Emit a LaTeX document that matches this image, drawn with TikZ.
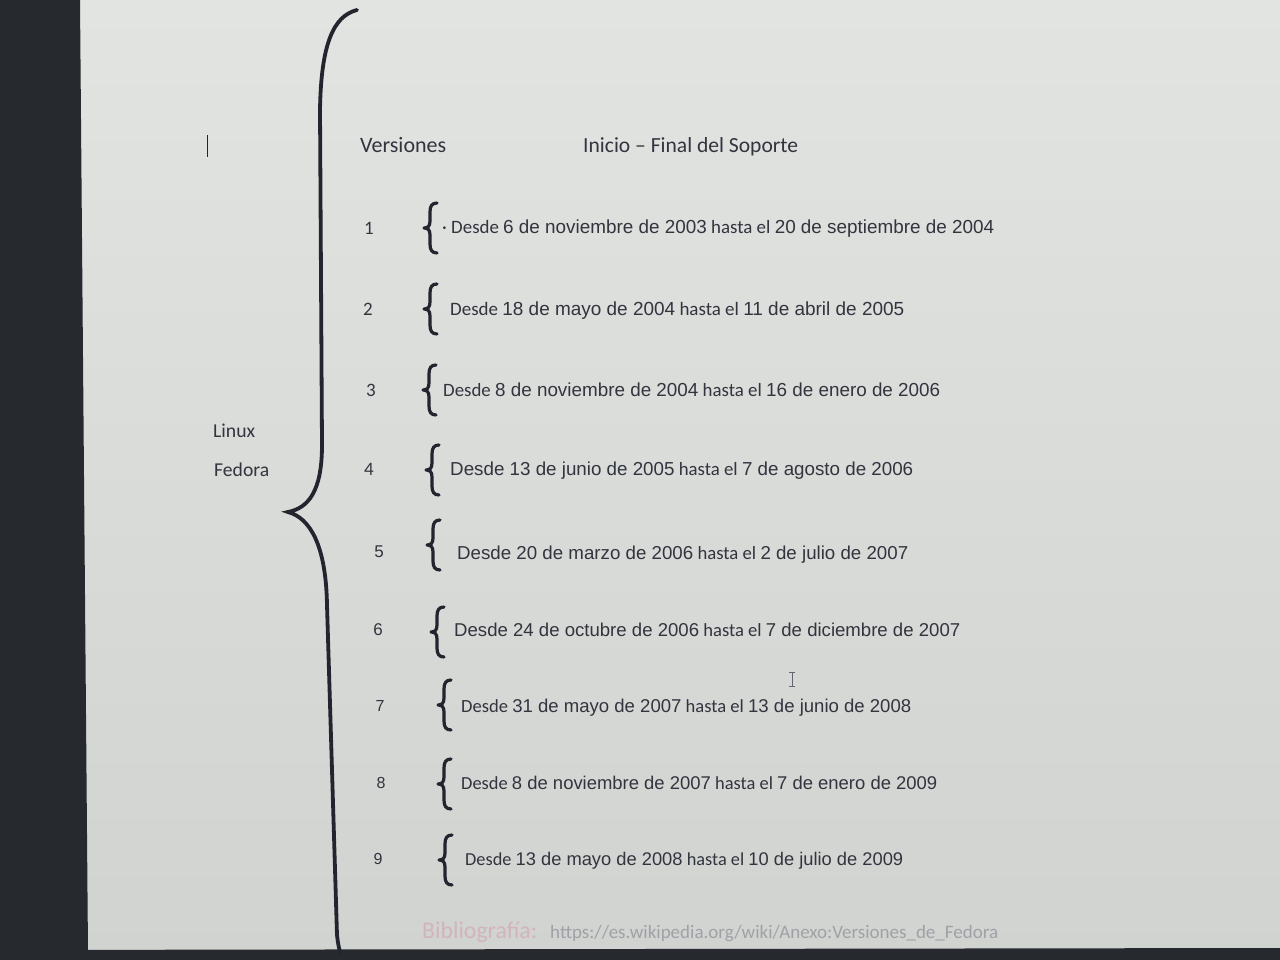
\documentclass[tikz,border=0pt]{standalone}
\usepackage{fontspec}
\usepackage{graphicx}
\setmainfont{Carlito}
\newfontfamily\ar{Liberation Sans}
\newfontfamily\ca{Carlito}
\definecolor{bgtop}{RGB}{226,228,226}
\definecolor{bgbot}{RGB}{208,211,208}
\definecolor{band}{RGB}{38,42,46}
\definecolor{ink}{RGB}{34,36,46}
\definecolor{txt}{RGB}{50,52,62}
\definecolor{pinkish}{RGB}{210,180,190}
\definecolor{urlgray}{RGB}{158,162,166}
\newcommand\fitw[2]{\resizebox{#1pt}{!}{#2}}
\newcommand\sbrace[2]{\draw[sbr] (#1+7,#2-25) .. controls (#1+2,#2-25) and (#1,#2-22) .. (#1,#2-16) -- (#1,#2-7) .. controls (#1,#2-2) and (#1-2,#2) .. (#1-6,#2) .. controls (#1-2,#2) and (#1,#2+2) .. (#1,#2+7) -- (#1,#2+16) .. controls (#1,#2+22) and (#1+2,#2+25) .. (#1+7,#2+25);}
\begin{document}
\begin{tikzpicture}[x=1pt,y=-1pt,
  sbr/.style={draw=ink,line width=3.2pt,line cap=round,line join=round},
  bigbr/.style={draw=ink,line width=3.8pt,line cap=round},
  lbl/.style={inner sep=0pt,text=txt,font=\fontsize{17}{20}\selectfont},
  numc/.style={inner sep=0pt,text=txt,font=\ca\fontsize{19}{22}\selectfont},
  numa/.style={inner sep=0pt,text=txt,font=\ar\fontsize{17}{20}\selectfont},
  row/.style={inner sep=0pt,text=txt,anchor=base west,font=\fontsize{17}{20}\selectfont}]
\useasboundingbox (0,0) rectangle (1280,960);
\shade[top color=bgtop,bottom color=bgbot] (0,0) rectangle (1280,960);
\fill[band] (0,0) -- (80,0) -- (88,952) -- (0,960) -- cycle;
\fill[band] (0,950) -- (1280,948) -- (1280,960) -- (0,960) -- cycle;
% cursor marks
\draw[ink,line width=1pt] (207,135) -- (207,157);
\draw[ink!70,line width=0.9pt] (792,672) -- (792,686) (789,672) -- (795,672) (789,686) -- (795,686);
% big brace
\draw[bigbr] (357,10) .. controls (333,16) and (321,45) .. (320,110) -- (322,445) .. controls (322,492) and (308,508) .. (288,512) .. controls (310,518) and (326,545) .. (327,605) -- (337,935) .. controls (338,944) and (339,948) .. (340,952);
% left labels
\node[lbl,anchor=base west] (linux) at (213,437) {\fitw{42}{Linux}};
\node[lbl,anchor=base west] (fedora) at (214,476) {\fitw{55}{Fedora}};
% headers
\node[lbl,anchor=base west] (hv) at (360,153) {\fitw{86}{Versiones}};
\node[lbl,anchor=base west] (hi) at (583,153) {\fitw{215}{Inicio – Final del Soporte}};
% numbers
\node[numc] (n1) at (369,228) {1};
\node[numc] (n2) at (368,309) {2};
\node[numc] (n3) at (371,390) {3};
\node[numc] (n4) at (369,469) {4};
\node[numa] (n5) at (379,552) {5};
\node[numa] (n6) at (378,630) {6};
\node[numa,font=\ar\fontsize{16}{18}\selectfont] (n7) at (380,706) {7};
\node[numa,font=\ar\fontsize{16}{18}\selectfont] (n8) at (381,783) {8};
\node[numa,font=\ar\fontsize{16}{18}\selectfont] (n9) at (378,859) {9};
% small braces
\sbrace{430}{228}
\sbrace{430}{309}
\sbrace{429}{390}
\sbrace{432}{470}
\sbrace{433}{545}
\sbrace{437}{632}
\sbrace{444}{705}
\sbrace{444}{784}
\sbrace{445}{860}
% rows
\node[row] (r1) at (442,234) {\fitw{552}{{\ca\textperiodcentered\ Desde} {\ar 6 de noviembre de 2003} {\ca hasta el} {\ar 20 de septiembre de 2004}}};
\node[row] (r2) at (450,315) {\fitw{454}{{\ca Desde} {\ar 18 de mayo de 2004} {\ca hasta el} {\ar 11 de abril de 2005}}};
\node[row] (r3) at (443,396) {\fitw{497}{{\ca Desde} {\ar 8 de noviembre de 2004} {\ca hasta el} {\ar 16 de enero de 2006}}};
\node[row] (r4) at (450,475) {\fitw{463}{{\ar Desde 13 de junio de 2005} {\ca hasta el} {\ar 7 de agosto de 2006}}};
\node[row] (r5) at (457,559) {\fitw{451}{{\ar Desde 20 de marzo de 2006} {\ca hasta el} {\ar 2 de julio de 2007}}};
\node[row] (r6) at (454,636) {\fitw{506}{{\ar Desde 24 de octubre de 2006} {\ca hasta el} {\ar 7 de diciembre de 2007}}};
\node[row] (r7) at (461,712) {\fitw{450}{{\ca Desde} {\ar 31 de mayo de 2007} {\ca hasta el} {\ar 13 de junio de 2008}}};
\node[row] (r8) at (461,789) {\fitw{476}{{\ca Desde} {\ar 8 de noviembre de 2007} {\ca hasta el} {\ar 7 de enero de 2009}}};
\node[row] (r9) at (465,865) {\fitw{438}{{\ca Desde} {\ar 13 de mayo de 2008} {\ca hasta el} {\ar 10 de julio de 2009}}};
% bibliography
\node[inner sep=0pt,anchor=base west,text=pinkish] (bib) at (422,938) {\fitw{115}{Bibliografía:}};
\node[inner sep=0pt,anchor=base west,text=urlgray] (url) at (550,938) {\fitw{448}{https://es.wikipedia.org/wiki/Anexo:Versiones\_de\_Fedora}};
\end{tikzpicture}
\end{document}
